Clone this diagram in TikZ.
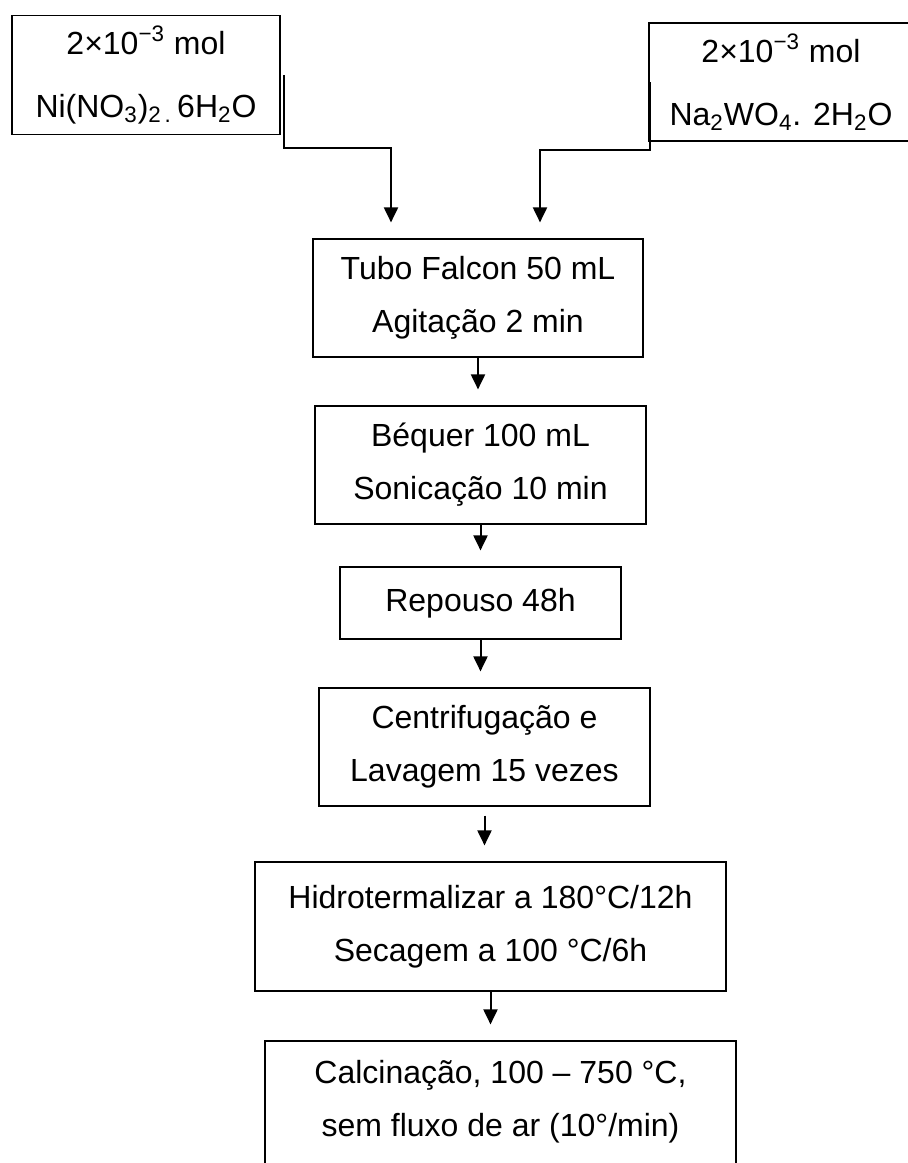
\documentclass[tikz,border=0pt]{standalone}
\usepackage{fontspec}
\setmainfont{Liberation Sans}
\usetikzlibrary{arrows.meta}

\begin{document}
\begin{tikzpicture}[x=0.5pt, y=-0.5pt,
    caixa/.style={draw, line width=0.6pt, align=center, inner sep=0pt, font=\fontsize{16}{26.5}\selectfont},
    seta/.style={line width=1pt, -{Triangle[length=7.5pt,width=7pt]}, shorten >=8pt}]
    \useasboundingbox (0,0) rectangle (908,1163);
    \clip (0,0) rectangle (908,1163);
    % Reagentes
    \node at (146,75) (nitrato) [caixa, minimum width=134pt, minimum height=59.5pt] {2×10\textsuperscript{−3} mol\\[5pt]Ni(NO\textsubscript{3})\textsubscript{2\,.}\,6H\textsubscript{2}O};
    \node at (781,82) (tungstato) [caixa, minimum width=132pt, minimum height=59pt] {2×10\textsuperscript{−3} mol\\[5pt]Na\textsubscript{2}WO\textsubscript{4}. 2H\textsubscript{2}O};
    % Etapas
    \node at (478,298) (tubo) [caixa, minimum width=165pt, minimum height=59pt] {Tubo Falcon 50 mL\\Agitação 2 min};
    \node at (480.5,465) (bequer) [caixa, minimum width=165.5pt, minimum height=59pt] {Béquer 100 mL\\Sonicação 10 min};
    \node at (480.5,603) (repouso) [caixa, minimum width=140.5pt, minimum height=36pt] {Repouso 48h};
    \node at (484.5,747) (centrif) [caixa, minimum width=165.5pt, minimum height=59pt] {Centrifugação e\\Lavagem 15 vezes};
    \node at (490.5,926.5) (hidro) [caixa, minimum width=235.5pt, minimum height=64.5pt] {Hidrotermalizar a 180°C/12h\\Secagem a 100 °C/6h};
    \node at (500.5,1110.5) (calc) [caixa, minimum width=235.5pt, minimum height=69.5pt, text depth=12.5pt] {Calcinação, 100 – 750 °C,\\sem fluxo de ar (10°/min)};
    % Ligacoes
    \coordinate (jn) at (391,148);
    \coordinate (jt) at (540,150);
    \draw[seta] ([xshift=1.5pt]nitrato.east) |- (jn) -- (jn |- tubo.north);
    \draw[seta] ([xshift=1pt]tungstato.west) |- (jt) -- (jt |- tubo.north);
    \draw[seta] (tubo.south) -- (tubo.south |- bequer.north);
    \draw[seta] (bequer.south) -- (bequer.south |- repouso.north);
    \draw[seta] (repouso.south) -- (repouso.south |- centrif.north);
    \draw[seta, shorten <=4.5pt] (centrif.south) -- (centrif.south |- hidro.north);
    \draw[seta] (hidro.south) -- (hidro.south |- calc.north);
\end{tikzpicture}
\end{document}
